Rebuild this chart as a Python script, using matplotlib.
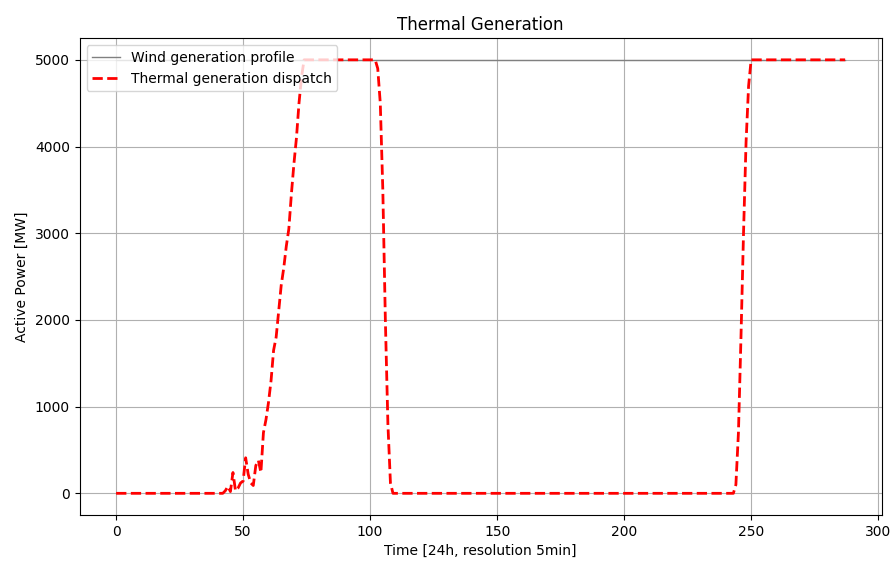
import numpy as np
import matplotlib
matplotlib.use("Agg")
import matplotlib.pyplot as plt

# 5-minute steps over one day
time_steps = np.arange(288)

wind_profile = [5000] * 288

thermal_dispatch = (
    [0] * 43
    + [30, 80, 20, 240, 30, 60, 120, 140, 410, 220, 120, 90, 320, 380, 240]
    + [700, 850, 1050, 1300, 1650, 1800, 2100, 2400, 2600, 2850, 3050,
       3450, 3800, 4100, 4500, 4800]
    + [5000] * 29
    + [4900, 4500, 3500, 2000, 800, 120]
    + [0] * 135
    + [100, 700, 1800, 3000, 4050, 4700]
    + [5000] * 38
)

fig, ax = plt.subplots(figsize=(8.95, 5.61), dpi=100)
fig.subplots_adjust(left=0.089, right=0.985, top=0.932, bottom=0.082)

ax.plot(time_steps, wind_profile, color="gray", linewidth=1, label="Wind generation profile")
ax.plot(time_steps, thermal_dispatch, "r--", linewidth=2, label="Thermal generation dispatch")

ax.set_title("Thermal Generation", fontsize=12)
ax.set_xlabel("Time [24h, resolution 5min]", fontsize=10)
ax.set_ylabel("Active Power [MW]", fontsize=10)
ax.tick_params(labelsize=10)
ax.grid(True)
ax.legend(loc="upper left", fontsize=10)

fig.savefig("out.png")
